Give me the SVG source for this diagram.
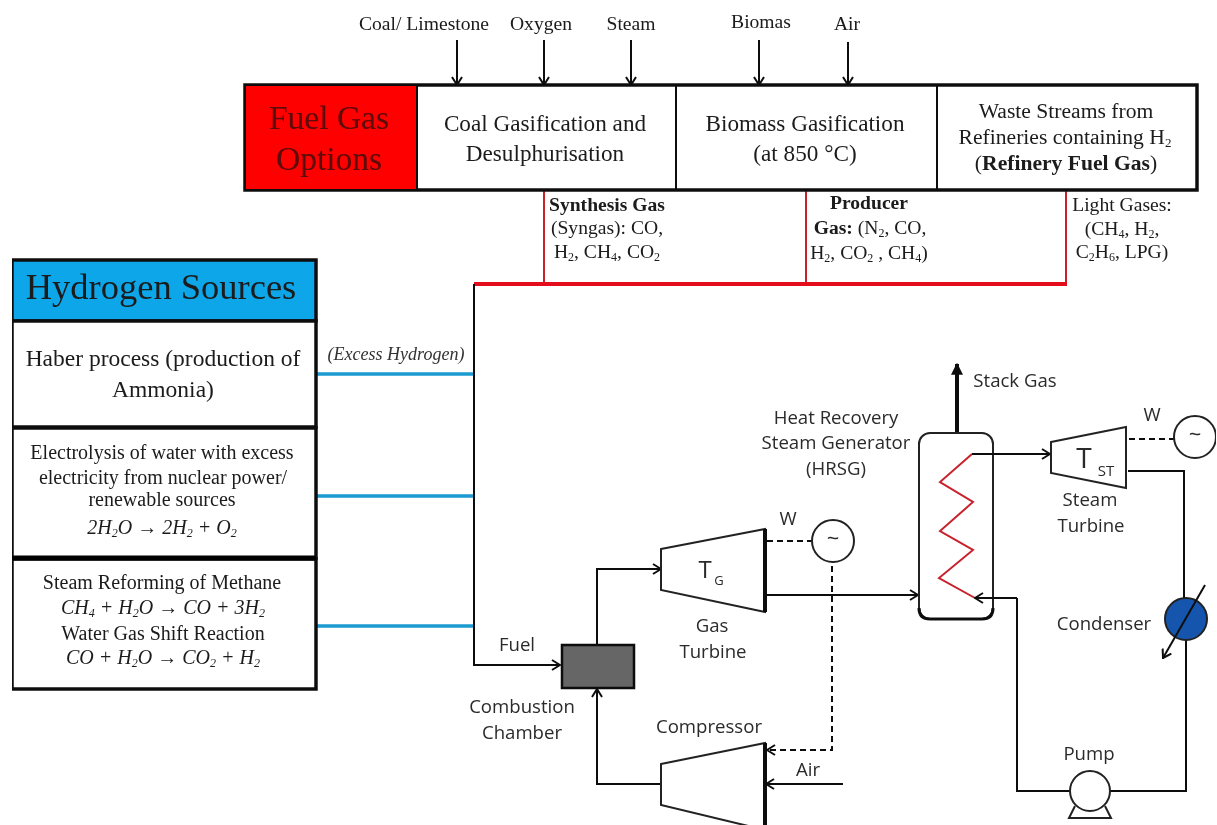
<svg xmlns="http://www.w3.org/2000/svg" width="1217" height="825" viewBox="0 0 1217 825">
<style>
text{font-family:"Liberation Serif","Times New Roman",serif;fill:#1a1a1a;text-anchor:middle}
.s{font-family:"Open Sans","Liberation Sans",sans-serif;fill:#2a2a2a;font-size:18.6px}
.i{font-size:19.6px}
.sm{font-size:20px}
.r{font-size:21.6px}
.c{font-size:23.2px}
.f{font-size:33.5px;fill:#5a0808}
.l{fill:none;stroke:#111;stroke-width:2}
.thick{fill:none;stroke:#111;stroke-width:4}
.blue{stroke:#1b9ad2;stroke-width:3.5;fill:none}
.red{stroke:#e3101c;stroke-width:4;fill:none}
.thinred{stroke:#c8202c;stroke-width:2;fill:none}
.dash{fill:none;stroke:#111;stroke-width:2;stroke-dasharray:6 4}
.box{fill:#fff;stroke:#111;stroke-width:3.5}
.m{fill:#fff;stroke:#222;stroke-width:2}
.e{font-style:italic;font-size:20px}
.b{font-weight:bold}
.div{stroke:#111;stroke-width:2}
</style>
<defs>
<marker id="a" viewBox="0 0 12 12" refX="11" refY="6" markerWidth="12" markerHeight="12" markerUnits="userSpaceOnUse" orient="auto"><path d="M3 1L11 6L3 11" fill="none" stroke="#111" stroke-width="2"/></marker>
<marker id="sa" viewBox="0 0 10 10" refX="9" refY="5" markerWidth="12" markerHeight="14" markerUnits="userSpaceOnUse" orient="auto"><path d="M0 0L10 5L0 10Z" fill="#111"/></marker>
<filter id="soft" x="0" y="0" width="100%" height="100%"><feGaussianBlur stdDeviation="0.45"/></filter>
</defs>
<rect width="1217" height="825" fill="#fff"/>
<g filter="url(#soft)">
<g id="connectors">
<path class="thinred" d="M544 190V284M806 190V284M1066 190V284"/>
<path class="blue" d="M316 374H473M316 496H473M316 626H473"/>
<path class="red" d="M474 284H1067"/>
<path class="l" d="M474 284V665H560" marker-end="url(#a)"/>
<path class="l" d="M457 40V85" marker-end="url(#a)"/>
<path class="l" d="M544 40V85" marker-end="url(#a)"/>
<path class="l" d="M631 40V85" marker-end="url(#a)"/>
<path class="l" d="M759 40V85" marker-end="url(#a)"/>
<path class="l" d="M848 42V85" marker-end="url(#a)"/>
<path class="l" d="M597 644V569H661" marker-end="url(#a)"/>
<path class="l" d="M661 784H597V689" marker-end="url(#a)"/>
<path class="l" d="M843 784H766" marker-end="url(#a)"/>
<path class="l" d="M767 595H918" marker-end="url(#a)"/>
<path class="dash" d="M767 541H812"/>
<path class="dash" d="M832 566V750H767" marker-end="url(#a)"/>
<path class="thick" d="M957 433V364" marker-end="url(#sa)"/>
<path class="l" d="M1128 471H1184V598"/>
<path class="l" d="M1186 640V791H1110"/>
<path class="l" d="M1070 791H1017V598"/>
<path class="dash" d="M1129 439H1174"/>
</g>
<g id="fuel-gas-options">
<rect class="box" x="245" y="85" width="952" height="105"/>
<rect x="246" y="86" width="171" height="103" fill="#fe0000"/>
<path class="div" d="M417 85V190"/>
<text class="f" x="329" y="129">Fuel Gas</text>
<text class="f" x="329" y="170">Options</text>
</g>
<g id="coal-gasification">
<text class="c" x="545" y="131">Coal Gasification and</text>
<text class="c" x="545" y="161">Desulphurisation</text>
<path class="div" d="M676 85V190"/>
</g>
<g id="biomass-gasification">
<text class="c" x="805" y="131">Biomass Gasification</text>
<text class="c" x="805" y="161">(at 850 °C)</text>
<path class="div" d="M937 85V190"/>
</g>
<g id="refinery">
<text class="r" x="1066" y="118">Waste Streams from</text>
<text class="r" x="1065" y="144">Refineries containing H<tspan font-size="13" dy="3">2</tspan></text>
<text class="r" x="1066" y="170">(<tspan class="b">Refinery Fuel Gas</tspan>)</text>
</g>
<g id="inputs">
<text class="i" x="424" y="30">Coal/ Limestone</text>
<text class="i" x="541" y="30">Oxygen</text>
<text class="i" x="631" y="30">Steam</text>
<text class="i" x="761" y="28">Biomas</text>
<text class="i" x="847" y="30">Air</text>
</g>
<g id="gas-labels">
<text class="i b" x="607" y="211">Synthesis Gas</text>
<text class="i" x="607" y="234">(Syngas): CO,</text>
<text class="i" x="607" y="258">H<tspan font-size="12" dy="3">2</tspan><tspan dy="-3">, CH</tspan><tspan font-size="12" dy="3">4</tspan><tspan dy="-3">, CO</tspan><tspan font-size="12" dy="3">2</tspan></text>
<text class="i b" x="869" y="209">Producer</text>
<text class="i" x="870" y="234"><tspan class="b">Gas:</tspan> (N<tspan font-size="12" dy="3">2</tspan><tspan dy="-3">, CO,</tspan></text>
<text class="i" x="869" y="259">H<tspan font-size="12" dy="3">2</tspan><tspan dy="-3">, CO</tspan><tspan font-size="12" dy="3">2</tspan><tspan dy="-3"> , CH</tspan><tspan font-size="12" dy="3">4</tspan><tspan dy="-3">)</tspan></text>
<text class="i" x="1122" y="211">Light Gases:</text>
<text class="i" x="1122" y="235">(CH<tspan font-size="12" dy="3">4</tspan><tspan dy="-3">, H</tspan><tspan font-size="12" dy="3">2</tspan><tspan dy="-3">,</tspan></text>
<text class="i" x="1122" y="258">C<tspan font-size="12" dy="3">2</tspan><tspan dy="-3">H</tspan><tspan font-size="12" dy="3">6</tspan><tspan dy="-3">, LPG)</tspan></text>
</g>
<g id="hydrogen-sources">
<rect x="12" y="260" width="304" height="61" fill="#0fa6e8" stroke="#111" stroke-width="3.5"/>
<text x="161" y="299" font-size="36.5">Hydrogen Sources</text>
</g>
<g id="haber">
<rect class="box" x="12" y="321" width="304" height="106"/>
<text x="163" y="366" font-size="23.5">Haber process (production of</text>
<text x="163" y="397" font-size="23.5">Ammonia)</text>
</g>
<g id="electrolysis">
<rect class="box" x="12" y="428" width="304" height="130"/>
<text class="sm" x="162" y="459">Electrolysis of water with excess</text>
<text class="sm" x="163" y="484">electricity from nuclear power/</text>
<text class="sm" x="162" y="506">renewable sources</text>
<text class="e" x="162" y="534">2H<tspan font-size="12" dy="3">2</tspan><tspan dy="-3">O → 2H</tspan><tspan font-size="12" dy="3">2</tspan><tspan dy="-3"> + O</tspan><tspan font-size="12" dy="3">2</tspan></text>
</g>
<g id="reforming">
<rect x="12" y="559" width="304" height="130" fill="#fff" stroke="#111" stroke-width="3.5"/>
<path d="M12 558H316" stroke="#000" stroke-width="5"/>
<text class="sm" x="162" y="589">Steam Reforming of Methane</text>
<text class="e" x="163" y="614">CH<tspan font-size="12" dy="3">4</tspan><tspan dy="-3"> + H</tspan><tspan font-size="12" dy="3">2</tspan><tspan dy="-3">O → CO + 3H</tspan><tspan font-size="12" dy="3">2</tspan></text>
<text class="sm" x="163" y="640">Water Gas Shift Reaction</text>
<text class="e" x="163" y="664">CO + H<tspan font-size="12" dy="3">2</tspan><tspan dy="-3">O → CO</tspan><tspan font-size="12" dy="3">2</tspan><tspan dy="-3"> + H</tspan><tspan font-size="12" dy="3">2</tspan></text>
</g>
<text id="excess-hydrogen" x="396" y="360" style="font-style:italic;font-size:18px;fill:#333">(Excess Hydrogen)</text>
<g id="combustion-chamber">
<rect x="562" y="645" width="72" height="43" fill="#666" stroke="#111" stroke-width="2.5"/>
<text class="s" x="522" y="713">Combustion</text>
<text class="s" x="522" y="739">Chamber</text>
<text class="s" x="517" y="651">Fuel</text>
</g>
<g id="gas-turbine">
<path class="m" d="M661 549L765 529V612L661 590Z"/>
<path d="M765 529V612" stroke="#111" stroke-width="4"/>
<text class="s" x="705" y="578" style="font-size:24px">T</text>
<text class="s" x="719" y="585" style="font-size:13px">G</text>
<text class="s" x="712" y="632">Gas</text>
<text class="s" x="713" y="658">Turbine</text>
<text class="s" x="788" y="525">W</text>
</g>
<g id="generator-gas">
<circle class="m" cx="833" cy="541" r="21"/>
<text class="s" x="833" y="546" style="font-size:22px">~</text>
</g>
<g id="compressor">
<path class="m" d="M661 764L765 743V830L661 805Z"/>
<path d="M765 743V826" stroke="#111" stroke-width="4"/>
<text class="s" x="709" y="733">Compressor</text>
<text class="s" x="808" y="776">Air</text>
</g>
<g id="hrsg">
<rect x="919" y="433" width="74" height="186" rx="11" fill="#fff" stroke="#222" stroke-width="2"/>
<path d="M919 608Q919 619 930 619H982Q993 619 993 608" fill="none" stroke="#111" stroke-width="3"/>
<path class="thinred" d="M972 454L940 482L973 502L940 531L973 550L939 578L975 598"/>
<text class="s" x="836" y="424">Heat Recovery</text>
<text class="s" x="836" y="449">Steam Generator</text>
<text class="s" x="836" y="475">(HRSG)</text>
<text class="s" x="1015" y="387">Stack Gas</text>
</g>
<g id="steam-lines">
<path class="l" d="M972 454H1050" marker-end="url(#a)"/>
<path class="l" d="M1017 598H975" marker-end="url(#a)"/>
</g>
<g id="steam-turbine">
<path class="m" d="M1051 442L1126 427V488L1051 473Z"/>
<text class="s" x="1084" y="468" style="font-size:28px">T</text>
<text class="s" x="1106" y="476" style="font-size:15px">ST</text>
<text class="s" x="1090" y="506">Steam</text>
<text class="s" x="1091" y="532">Turbine</text>
<text class="s" x="1152" y="421">W</text>
</g>
<g id="generator-steam">
<circle class="m" cx="1195" cy="437" r="21"/>
<text class="s" x="1195" y="442" style="font-size:22px">~</text>
</g>
<g id="condenser">
<circle cx="1186" cy="619" r="21" fill="#1355ad" stroke="#222" stroke-width="2"/>
<path class="l" d="M1205 585L1163 658" marker-end="url(#a)"/>
<text class="s" x="1104" y="630">Condenser</text>
</g>
<g id="pump">
<path d="M1075 806L1069 818H1111L1105 806" fill="#fff" stroke="#222" stroke-width="2"/>
<circle class="m" cx="1090" cy="791" r="20"/>
<text class="s" x="1089" y="760">Pump</text>
</g>
</g>
</svg>
